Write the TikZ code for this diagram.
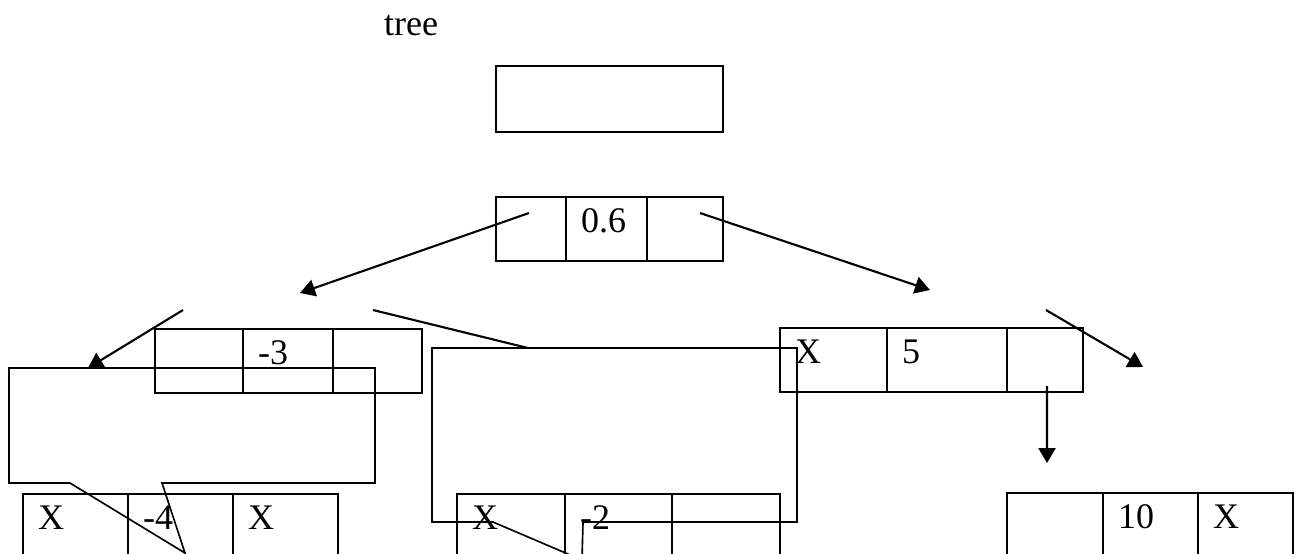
\documentclass[tikz,border=0pt]{standalone}
\usepackage{fontspec}
\setmainfont{Liberation Serif}
\usetikzlibrary{arrows.meta,positioning}

\def\u{0.3333pt}

\begin{document}
\begin{tikzpicture}[x=\u, y=-\u, line width=0.7pt, >={Triangle[length=5pt,width=5.7pt]},
    cell/.style={draw, anchor=north west, inner sep=0pt, outer sep=0pt, minimum height=64*\u},
    val/.style={anchor=base west, inner sep=0pt, font=\fontsize{12}{14}\selectfont},
    callout/.style={line width=0.55pt}]
    \useasboundingbox (0,0) rectangle (1302,553);
    \clip (0,0) rectangle (1302,553);
    % Title
    \node[val] (title) at (383,35) {tree};
    % Root box
    \node[cell, minimum width=227*\u, minimum height=66*\u] (root) at (496,66) {};
    % Records: name / left / top / widths
    \foreach \n/\x/\y/\wa/\wb/\wc in {a/496/197/70/81/76, b/155/329/88/90/89,
        c/780/328/107/120/76, d/23/494/105/105/105, e/457/494/108/107/108,
        f/1007/493/96/95/95}{
      \node[cell, minimum width=\wa*\u] (\n1) at (\x,\y) {};
      \node[cell, minimum width=\wb*\u, right=0pt of \n1] (\n2) {};
      \node[cell, minimum width=\wc*\u, right=0pt of \n2] (\n3) {};
    }
    % Values
    \foreach \c/\t in {a2/0.6, b2/-3, c1/X, c2/5, d1/X, d2/-4, d3/X, e1/X, e2/-2, f2/10, f3/X}
      \node[val] (\c v) at ([shift={(14,35)}]\c.north west) {\t};
    % Arrow ends
    \coordinate (al) at (300,293);
    \coordinate (ar) at (930,290);
    \coordinate (bl) at (88,368);
    \coordinate (br) at (528,348);
    \coordinate (cr) at (1143,367);
    \coordinate (cd) at (1047,463);
    % Arrows
    \draw[->] ([shift={(-2,-16)}]a1.center) -- (al);
    \draw[->] ([shift={(15,-16)}]a3.center) -- (ar);
    \draw[->] ([shift={(28,-19)}]b1.north west) -- (bl);
    \draw ([shift={(40,-19)}]b3.north west) -- (br);
    \draw[->] ([shift={(39,-18)}]c3.north west) -- (cr);
    \draw[->] ([shift={(2,26)}]c3.center) -- (cd);
    % Callouts
    \draw[callout] (185,553) -- (70,483) -- (9,483) -- (9,368) -- (375,368)
      -- (375,483) -- (162,483) -- cycle;
    \draw[callout] (582,560) -- (493,522) -- (432,522) -- (432,348) -- (797,348)
      -- (797,522) -- (583,522) -- cycle;
\end{tikzpicture}
\end{document}
